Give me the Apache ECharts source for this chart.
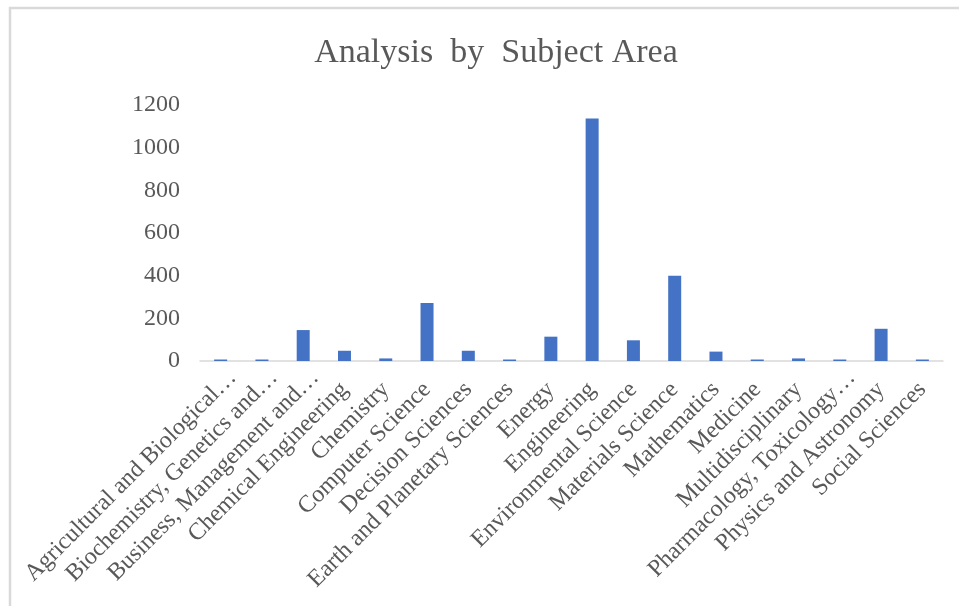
<!DOCTYPE html>
<html>
<head>
<meta charset="utf-8">
<script src="https://cdn.jsdelivr.net/npm/echarts@6/dist/echarts.min.js"></script>
<style>
html,body{margin:0;padding:0;background:#fff;}
#chart{width:959px;height:606px;}
</style>
</head>
<body>
<div id="chart"></div>
<script>
const titleText = "Analysis  by  Subject Area";
const categories = [
  "Agricultural and Biological…",
  "Biochemistry, Genetics and…",
  "Business, Management and…",
  "Chemical Engineering",
  "Chemistry",
  "Computer Science",
  "Decision Sciences",
  "Earth and Planetary Sciences",
  "Energy",
  "Engineering",
  "Environmental Science",
  "Materials Science",
  "Mathematics",
  "Medicine",
  "Multidisciplinary",
  "Pharmacology, Toxicology…",
  "Physics and Astronomy",
  "Social Sciences"
];
const values = [7, 7, 145, 48, 12, 272, 48, 7, 114, 1137, 97, 400, 44, 7, 12, 7, 151, 7];
const yTicks = { min: 0, max: 1200, interval: 200 };

const serif = "'Liberation Serif', 'DejaVu Serif', serif";
const chart = echarts.init(document.getElementById('chart'), null, { renderer: 'canvas' });

// Truncated labels overflow past the tick in the original; shift them along their baseline.
const axisData = categories.map(function (c) {
  if (c.endsWith('…')) {
    return { value: c, textStyle: { padding: [0, -17, 0, 0] } };
  }
  return c;
});

chart.setOption({
  animation: false,
  backgroundColor: '#ffffff',
  graphic: [{
    type: 'rect',
    shape: { x: 10, y: 8, width: 1000, height: 700 },
    style: { fill: 'none', stroke: '#d9d9d9', lineWidth: 2.5 },
    silent: true
  }],
  title: {
    text: titleText,
    left: 491,
    textAlign: 'center',
    top: 31,
    textStyle: { fontFamily: serif, fontSize: 34, fontWeight: 'normal', color: '#595959' }
  },
  grid: { left: 200, right: 16, top: 105, bottom: 245, containLabel: false },
  xAxis: {
    type: 'category',
    data: axisData,
    boundaryGap: true,
    axisLine: { show: true, lineStyle: { color: '#d9d9d9', width: 1.5 } },
    axisTick: { show: false },
    axisLabel: {
      interval: 0,
      rotate: 45,
      margin: 25,
      fontFamily: serif,
      fontSize: 24,
      color: '#595959'
    },
    splitLine: { show: false }
  },
  yAxis: {
    type: 'value',
    min: yTicks.min,
    max: yTicks.max,
    interval: yTicks.interval,
    axisLine: { show: false },
    axisTick: { show: false },
    splitLine: { show: false },
    axisLabel: {
      margin: 20,
      fontFamily: serif,
      fontSize: 24,
      color: '#595959',
      formatter: function (v) { return String(v); }
    }
  },
  series: [{
    type: 'bar',
    data: values,
    barWidth: 13,
    itemStyle: { color: '#4472C4' }
  }]
});
</script>
</body>
</html>
